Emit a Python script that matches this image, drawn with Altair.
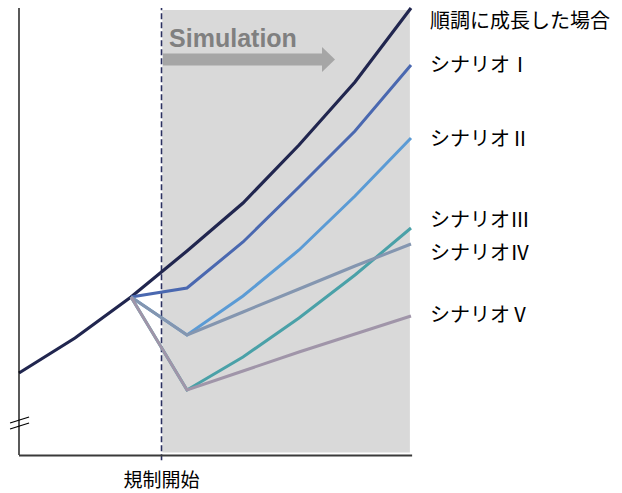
import altair as alt
import pandas as pd

# ---- data ----
periods = [0, 1, 2, 3, 4, 5, 6, 7]
main_vals = [20.5, 29.25, 39.5, 51.0, 63.0, 77.5, 93.25, 111.75]

scen_periods = [2, 3, 4, 5, 6, 7]
scen1 = [39.5, 41.75, 53.25, 67.0, 81.0, 97.5]
scen2 = [39.5, 30.0, 39.75, 51.25, 64.75, 79.25]
scen3 = [39.5, 16.25, 24.5, 34.25, 45.0, 56.75]
scen4 = [39.5, 30.0, 35.75, 41.5, 47.25, 52.75]
scen5 = [39.5, 16.25, 21.0, 25.75, 30.25, 34.75]

series_names = ["順調に成長した場合", "シナリオⅠ", "シナリオⅡ", "シナリオⅢ", "シナリオⅣ", "シナリオⅤ"]
series_colors = ["#21264f", "#4a68b0", "#5b9bd5", "#4aa1a8", "#8496b0", "#a095a9"]
label_y = [108.25, 97.25, 78.75, 58.5, 50.25, 34.75]

reg_start = 2.545          # regulation start (規制開始)
sim_end = 6.98
x_label = "規制開始"
sim_label = "Simulation"

# ---- build long table ----
rows = []
for p, v in zip(periods, main_vals):
    rows.append({"period": p, "value": v, "series": series_names[0], "ord": 0})
for i, vals in enumerate([scen1, scen2, scen3, scen4, scen5], start=1):
    for p, v in zip(scen_periods, vals):
        rows.append({"period": p, "value": v, "series": series_names[i], "ord": i})
df = pd.DataFrame(rows)

xs = alt.Scale(domain=[0, 7], nice=False, zero=False)
ys = alt.Scale(domain=[0, 112], nice=False, zero=False)
cs = alt.Scale(domain=series_names, range=series_colors)

X = lambda f: alt.X(f, type="quantitative", scale=xs, axis=None)
Y = lambda f: alt.Y(f, type="quantitative", scale=ys, axis=None)

# shaded simulation region
band = alt.Chart(pd.DataFrame({"x": [reg_start + 0.015], "x2": [sim_end], "y": [0.6], "y2": [111.25]})).mark_rect(
    color="#d9d9d9"
).encode(x=X("x:Q"), x2="x2:Q", y=Y("y:Q"), y2="y2:Q")

# axes lines
yaxis = alt.Chart(pd.DataFrame({"x": [0], "y": [0], "y2": [111.75]})).mark_rule(
    color="#000000", strokeWidth=1.3
).encode(x=X("x:Q"), y=Y("y:Q"), y2="y2:Q")
xaxis = alt.Chart(pd.DataFrame({"x": [0], "x2": [7.02], "y": [-0.1]})).mark_rule(
    color="#3a3a3a", strokeWidth=2
).encode(x=X("x:Q"), x2="x2:Q", y=Y("y:Q"))

# axis break marks
brk = alt.Chart(pd.DataFrame({"x": [-0.16, -0.16], "x2": [0.18, 0.18], "y": [8.0, 6.5], "y2": [9.5, 8.0]})).mark_rule(
    color="#000000", strokeWidth=1.2
).encode(x=X("x:Q"), x2="x2:Q", y=Y("y:Q"), y2="y2:Q")

# dashed regulation line
dash = alt.Chart(pd.DataFrame({"x": [reg_start], "y": [-1.3], "y2": [111.75]})).mark_rule(
    color="#2b3060", strokeWidth=1.6, strokeDash=[6, 3]
).encode(x=X("x:Q"), y=Y("y:Q"), y2="y2:Q")

# simulation arrow
arrow_body = alt.Chart(pd.DataFrame({"x": [2.571], "x2": [5.411], "y": [98.9]})).mark_rule(
    color="#a6a6a6", strokeWidth=12, strokeCap="butt"
).encode(x=X("x:Q"), x2="x2:Q", y=Y("y:Q"))
arrow_head = alt.Chart(pd.DataFrame({"x": [5.527], "y": [98.9]})).mark_point(
    shape="M -0.52 -1 L 0.52 0 L -0.52 1 Z", size=625, filled=True, color="#a6a6a6", opacity=1, strokeWidth=0
).encode(x=X("x:Q"), y=Y("y:Q"))
sim_text = alt.Chart(pd.DataFrame({"x": [2.68], "y": [102], "t": [sim_label]})).mark_text(
    align="left", baseline="alphabetic", font="Liberation Sans", fontSize=25, fontWeight="bold", color="#808080"
).encode(x=X("x:Q"), y=Y("y:Q"), text="t:N")

# series lines (drawn in order)
line_layers = []
for i, name in enumerate(series_names):
    line_layers.append(
        alt.Chart(df[df["series"] == name]).mark_line(strokeWidth=3.2 if i == 0 else 3, strokeJoin="miter").encode(
            x=X("period:Q"), y=Y("value:Q"),
            color=alt.Color("series:N", scale=cs, legend=None),
        )
    )

# right-side labels
lab_df = pd.DataFrame({"x": [7] * len(series_names), "y": label_y, "t": series_names})
labels = alt.Chart(lab_df).mark_text(
    align="left", baseline="middle", dx=19, font="Noto Sans CJK JP", fontSize=20, color="#000000"
).encode(x=X("x:Q"), y=Y("y:Q"), text="t:N")

xlab = alt.Chart(pd.DataFrame({"x": [reg_start], "y": [-6.4], "t": [x_label]})).mark_text(
    align="center", baseline="middle", font="Noto Sans CJK JP", fontSize=19, color="#000000"
).encode(x=X("x:Q"), y=Y("y:Q"), text="t:N")

chart = alt.layer(
    band, dash, arrow_body, arrow_head, sim_text, *line_layers, yaxis, xaxis, brk, labels, xlab
).properties(
    width=392, height=448,
    autosize=alt.AutoSizeParams(type="none"),
    padding={"left": 19, "top": 7, "right": 211, "bottom": 38},
    background="#ffffff",
).configure_view(stroke=None)

chart.save("out.html", embed_options={"renderer": "svg", "actions": False})
